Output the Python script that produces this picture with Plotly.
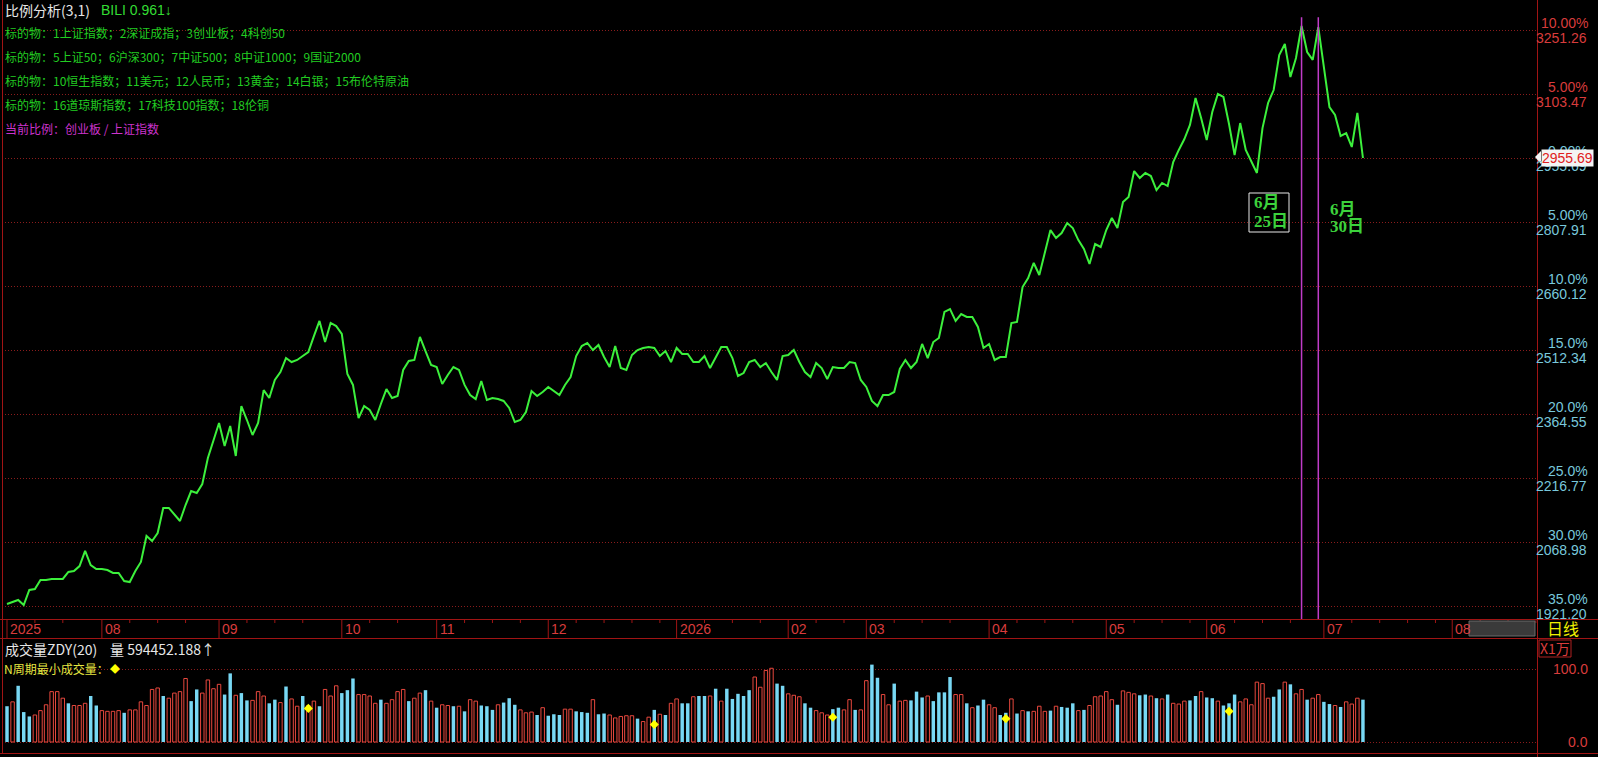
import plotly.graph_objects as go

# ---------------- data ----------------
# ratio series (% change vs latest value 2955.69), one value per trading day
ratio_pct = [
    -34.84, -34.69, -34.53, -34.92, -33.75, -33.67, -32.97, -32.97, -32.89, -32.89,
    -32.89, -32.34, -32.27, -31.88, -30.70, -31.80, -32.11, -32.11, -32.19, -32.42,
    -32.42, -33.05, -33.13, -32.27, -31.56, -29.53, -29.92, -29.30, -27.34, -27.34,
    -27.81, -28.36, -27.11, -26.02, -26.17, -25.47, -23.44, -22.11, -20.70, -22.50,
    -20.94, -23.28, -19.38, -20.47, -21.64, -20.70, -18.13, -18.75, -17.34, -16.72,
    -15.63, -15.94, -15.78, -15.47, -15.16, -13.91, -12.73, -14.38, -12.89, -13.13,
    -13.75, -16.88, -17.73, -20.31, -19.38, -19.69, -20.47, -19.22, -18.05, -18.75,
    -18.59, -16.56, -15.86, -15.78, -13.98, -15.08, -16.17, -16.33, -17.66, -16.95,
    -16.33, -16.56, -17.73, -18.52, -18.83, -17.42, -18.91, -18.75, -18.83, -18.98,
    -19.53, -20.63, -20.47, -19.84, -18.20, -18.59, -18.28, -17.89, -18.20, -18.52,
    -17.73, -17.11, -15.47, -14.69, -14.45, -15.00, -14.61, -15.55, -16.33, -14.69,
    -16.41, -16.56, -15.39, -15.00, -14.84, -14.77, -14.84, -15.47, -15.08, -15.94,
    -14.84, -15.31, -15.31, -15.94, -15.94, -15.47, -16.41, -15.63, -14.77, -14.77,
    -15.63, -17.03, -16.80, -15.94, -15.78, -16.33, -16.02, -16.72, -17.34, -15.47,
    -15.39, -15.00, -15.94, -16.72, -17.11, -16.02, -16.41, -17.27, -16.33, -16.41,
    -16.41, -15.94, -16.02, -17.34, -17.89, -18.98, -19.38, -18.52, -18.52, -18.28,
    -16.48, -15.78, -16.41, -15.94, -14.53, -15.63, -14.38, -14.06, -12.03, -11.80,
    -12.73, -12.19, -12.42, -12.42, -13.20, -14.84, -14.53, -15.78, -15.55, -15.55,
    -12.89, -12.81, -10.08, -9.38, -8.20, -9.14, -7.27, -5.63, -6.25, -5.86,
    -5.08, -5.47, -6.41, -7.11, -8.28, -6.72, -6.95, -5.63, -4.69, -5.47,
    -3.44, -3.05, -1.02, -1.56, -1.17, -1.41, -2.50, -1.95, -2.19, -0.31,
    0.63, 1.48, 2.58, 4.69, 3.13, 1.41, 3.59, 5.00, 4.77, 2.66,
    0.23, 2.73, 0.63, -0.23, -1.17, 2.34, 4.30, 5.31, 8.05, 8.91,
    6.33, 7.81, 10.31, 8.28, 7.66, 10.23, 7.27, 3.98, 3.36, 1.72,
    1.95, 0.86, 3.52, 0.00,
]

# volume (x1万), one bar per trading day
volume = [
    49, 55, 77, 41, 35, 37, 43, 51, 69, 69,
    60, 53, 50, 50, 53, 63, 50, 43, 42, 42,
    43, 40, 44, 44, 55, 50, 72, 74, 63, 60,
    67, 69, 87, 56, 72, 67, 85, 73, 79, 65,
    94, 64, 67, 57, 57, 69, 63, 53, 58, 54,
    76, 59, 49, 63, 50, 56, 49, 72, 63, 77,
    67, 71, 87, 65, 65, 63, 53, 58, 53, 58,
    69, 72, 56, 60, 67, 71, 56, 47, 51, 50,
    49, 49, 42, 58, 56, 50, 49, 44, 51, 54,
    60, 51, 44, 40, 41, 37, 47, 36, 38, 37,
    45, 45, 42, 41, 40, 58, 38, 39, 37, 33,
    35, 36, 36, 32, 28, 34, 44, 38, 37, 53,
    59, 53, 53, 62, 63, 63, 63, 73, 56, 73,
    59, 66, 63, 71, 89, 75, 98, 101, 80, 77,
    66, 64,
    62, 53, 47, 43, 40, 37, 45, 47, 44, 58,
    44, 44, 84, 106, 88, 65, 51, 80, 56, 57,
    57, 69, 61, 63, 56, 68, 68, 89, 65, 65,
    53, 47, 50, 58, 51, 47, 37, 40, 59, 39,
    43, 42, 42, 49, 42, 43, 49, 48, 47, 53,
    43, 44, 50, 62, 63, 69, 58, 51, 70, 68,
    66, 64, 65, 63, 60, 59, 65, 53, 52, 56,
    57, 63, 69, 61, 60, 56, 50, 53, 65, 55,
    59, 51, 82, 80,
    60, 62, 72, 82, 79, 66, 72, 58, 60, 65, 55, 52, 50, 48, 55, 52, 60, 58,
]
# bar direction: r = up (red hollow), c = down (cyan filled)
volume_dir = list(
    "crcccrrrrr" "rcrrrccrrr" "rcrrrrrrcr" "rrrccrrrrc" "crccrrrccr"
    "crrcrrcrrr" "cccrrrrcrr" "rrcrrcrcrr" "crcrrcccrc" "ccrrrcrccc"
    "rrcccrccrr" "rrrcrrcrcr" "rccrccrcrc" "ccccrrrrcc" "r" "r"
    "rccrrrccrr" "crrccrrcrr" "cccrccccrr" "crccrrccrc" "rcrrrcrccc"
    "rcrrrrrcrr" "rccrcrcrrr" "ccrccrcccr" "rrrr"
    "rccrcrrcrrccrcrrrc"
)
min_vol_idx = [54, 116, 148, 179, 219]
min_vol_val = [46, 24, 34, 32, 42]

month_labels = ["2025", "08", "09", "10", "11", "12", "2026", "02", "03", "04", "05", "06", "07", "08"]
month_start_idx = [0, 17, 38, 60, 77, 97, 120, 140, 154, 176, 197, 215, 236, 259]

ytick_pct = [10, 5, 0, -5, -10, -15, -20, -25, -30, -35]
ytick_pct_text = ["10.00%", "5.00%", "0.00%", "5.00%", "10.0%", "15.0%", "20.0%", "25.0%", "30.0%", "35.0%"]
ytick_price_text = ["3251.26", "3103.47", "2955.69", "2807.91", "2660.12", "2512.34",
                    "2364.55", "2216.77", "2068.98", "1921.20"]
last_value_text = "2955.69"

mark_idx = [232, 235]
mark_month = ["6月", "6月"]
mark_day = ["25日", "30日"]

header_lines = [
    "标的物：1上证指数；2深证成指；3创业板；4科创50",
    "标的物：5上证50；6沪深300；7中证500；8中证1000；9国证2000",
    "标的物：10恒生指数；11美元；12人民币；13黄金；14白银；15布伦特原油",
    "标的物：16道琼斯指数；17科技100指数；18伦铜",
]

# ---------------- layout helpers (pixel geometry) ----------------
W, H = 1598, 757
PL, PR = 2, 1537


def xp(px):
    return (px - PL) / (PR - PL)


def yp(py):
    return 1 - py / H


# index <-> pixel: px = 7 + 5.58*i
X0, DX = 7.0, 5.58
xr = [(PL - X0) / DX, (PR - X0) / DX]
# main panel: py = 158 - 12.8*pct ; rows 0..619
MAIN_BOT = 619
yr_main = [(158 - MAIN_BOT) / 12.8, 158 / 12.8]
# volume panel: py = 742 - 0.73*v ; rows 640..752
VOL_TOP, VOL_BOT = 640, 752
yr_vol = [(742 - VOL_BOT) / 0.73, (742 - VOL_TOP) / 0.73]

RED = "#d83c3c"
BORDER = "#a01414"
GRID = "#8a1c1c"
CYAN_TXT = "#78c8dc"
GREEN_TXT = "#22cc22"
SANS = "Liberation Sans, Noto Sans CJK SC"
CJK = "Noto Sans CJK SC, Liberation Sans"
SERIF = "Liberation Serif, Noto Sans CJK SC"

fig = go.Figure()

idx = list(range(len(ratio_pct)))
fig.add_trace(go.Scatter(x=idx, y=ratio_pct, mode="lines",
                         line=dict(color="#3cf03c", width=2),
                         xaxis="x", yaxis="y", hoverinfo="skip"))

up_x = [i for i, d in enumerate(volume_dir) if d == "r"]
dn_x = [i for i, d in enumerate(volume_dir) if d == "c"]
fig.add_trace(go.Bar(x=up_x, y=[volume[i] for i in up_x], width=0.62,
                     marker=dict(color="rgba(0,0,0,0)", line=dict(color="#e8483e", width=1)),
                     xaxis="x2", yaxis="y2", hoverinfo="skip"))
fig.add_trace(go.Bar(x=dn_x, y=[volume[i] for i in dn_x], width=0.62,
                     marker=dict(color="#78d8f4", line=dict(width=0)),
                     xaxis="x2", yaxis="y2", hoverinfo="skip"))
fig.add_trace(go.Scatter(x=min_vol_idx, y=min_vol_val, mode="markers",
                         marker=dict(symbol="diamond", size=7, color="#ffff00"),
                         xaxis="x2", yaxis="y2", hoverinfo="skip"))

shapes = []
# panel borders
shapes.append(dict(type="line", xref="paper", yref="paper", x0=xp(2.5), x1=xp(2.5), y0=yp(0), y1=yp(753),
                   line=dict(color=BORDER, width=1)))
shapes.append(dict(type="line", xref="paper", yref="paper", x0=xp(1537.5), x1=xp(1537.5), y0=yp(0), y1=yp(757),
                   line=dict(color=BORDER, width=1)))
for py in (619.5, 638.5, 753.5):
    shapes.append(dict(type="line", xref="paper", yref="paper", x0=xp(0), x1=xp(W), y0=yp(py), y1=yp(py),
                       line=dict(color=BORDER, width=1)))
# month ticks + minor ticks in date strip
for k, m in enumerate(month_start_idx):
    shapes.append(dict(type="line", xref="x", yref="paper", x0=m, x1=m, y0=yp(619), y1=yp(638),
                       line=dict(color=BORDER, width=1)))
    nxt = month_start_idx[k + 1] if k + 1 < len(month_start_idx) else m + 22
    for s in (5, 10, 15, 20):
        if m + s < nxt - 2 and m + s < xr[1]:
            shapes.append(dict(type="line", xref="x", yref="paper", x0=m + s, x1=m + s,
                               y0=yp(619), y1=yp(623), line=dict(color=BORDER, width=1)))
# marker vertical lines
for m in mark_idx:
    shapes.append(dict(type="line", xref="x", yref="y", x0=m, x1=m, y0=11.0, y1=yr_main[0],
                       line=dict(color="#c03cc8", width=1.5)))
# box around first date label
shapes.append(dict(type="rect", xref="paper", yref="paper", x0=xp(1249), x1=xp(1289), y0=yp(193), y1=yp(232),
                   line=dict(color="#e8e8e8", width=1)))
# gray box in date strip
shapes.append(dict(type="rect", xref="paper", yref="paper", x0=xp(1469), x1=xp(1535), y0=yp(621), y1=yp(636),
                   fillcolor="#3a3a3a", line=dict(color="#6a6a6a", width=1)))
# X1万 box
shapes.append(dict(type="rect", xref="paper", yref="paper", x0=xp(1539), x1=xp(1571), y0=yp(640), y1=yp(657),
                   line=dict(color="#b02020", width=1)))
# current value pointer
shapes.append(dict(type="path", xref="paper", yref="paper",
                   path=f"M {xp(1535)},{yp(157)} L {xp(1541)},{yp(151)} L {xp(1541)},{yp(164)} Z",
                   fillcolor="#f4f4f4", line=dict(width=0)))

ann = []


def text(x, y, s, color, size, family=CJK, xanchor="left", yanchor="middle", **kw):
    d = dict(x=x, y=y, text=s, showarrow=False, xanchor=xanchor, yanchor=yanchor,
             font=dict(color=color, size=size, family=family))
    d.setdefault("xref", "paper")
    d.setdefault("yref", "paper")
    d.update(kw)
    ann.append(d)


# header texts
text(xp(3), yp(10), "比例分析(3,1)", "#e6e6e6", 14)
text(xp(99), yp(10), "BILI 0.961↓", "#33dd33", 14, family=SANS)
for k, line in enumerate(header_lines):
    text(xp(3), yp(32 + 24 * k), line, GREEN_TXT, 12)
text(xp(3), yp(129), "当前比例：创业板 / 上证指数", "#cc33cc", 12)

# right axis labels
for v, pt, pr in zip(ytick_pct, ytick_pct_text, ytick_price_text):
    col = RED if v > 0 else CYAN_TXT
    text(xp(1590), v, pt, col, 14, family=SANS, xanchor="right", yanchor="bottom", yref="y", yshift=-3)
    text(xp(1589), v, pr, col, 14, family=SANS, xanchor="right", yanchor="top", yref="y", yshift=2)
text(xp(1541), 0, last_value_text, "#e02020", 14, family=SANS, xanchor="left", yanchor="middle",
     yref="y", bgcolor="#f4f4f4", borderpad=0)

# date labels
for m, lab in zip(month_start_idx, month_labels):
    text(m, yp(629), lab, RED, 14, family=SANS, xref="x", xshift=1)
text(xp(1545), yp(628), "日线", "#f0f000", 16)

# marker date labels (first one boxed, left of its line; second right of its line)
for m, mo, dy, sh, off in zip(mark_idx, mark_month, mark_day, [-50, 10], [0, 6]):
    text(m, yp(203 + off), f"<b>{mo}</b>", "#3cd23c", 17, family=SERIF, xref="x", xshift=sh)
    text(m, yp(221 + off), f"<b>{dy}</b>", "#3cd23c", 17, family=SERIF, xref="x", xshift=sh)

# volume panel texts
text(xp(3), yp(649), "成交量ZDY(20)", "#e6e6e6", 14)
text(xp(108), yp(649), "量 594452.188↑", "#e6e6e6", 14)
text(xp(2), yp(668), "N周期最小成交量：", "#e6e640", 12)
text(xp(108), yp(668), "◆", "#ffff00", 10)
text(xp(1555), yp(648), "X1万", RED, 14, xanchor="center")
text(xp(1590), 100, "100.0", RED, 14, family=SANS, xanchor="right", yref="y2")
text(xp(1590), 0, "0.0", RED, 14, family=SANS, xanchor="right", yref="y2")

fig.update_layout(
    width=W, height=H,
    margin=dict(l=PL, r=W - PR, t=0, b=0),
    paper_bgcolor="#000000", plot_bgcolor="#000000",
    showlegend=False, barmode="overlay",
    xaxis=dict(domain=[0, 1], range=xr, visible=False, anchor="y"),
    yaxis=dict(domain=[yp(MAIN_BOT), 1], range=yr_main, tickvals=ytick_pct, showticklabels=False,
               showgrid=True, gridcolor=GRID, griddash="1px,2px", gridwidth=1, zeroline=False, anchor="x"),
    xaxis2=dict(domain=[0, 1], range=xr, visible=False, anchor="y2"),
    yaxis2=dict(domain=[yp(VOL_BOT), yp(VOL_TOP)], range=yr_vol, tickvals=[0, 100], showticklabels=False,
                showgrid=True, gridcolor=GRID, griddash="1px,2px", gridwidth=1, zeroline=False, anchor="x2"),
    shapes=shapes,
    annotations=ann,
)

fig.write_html("out.html", config={"displayModeBar": False})
